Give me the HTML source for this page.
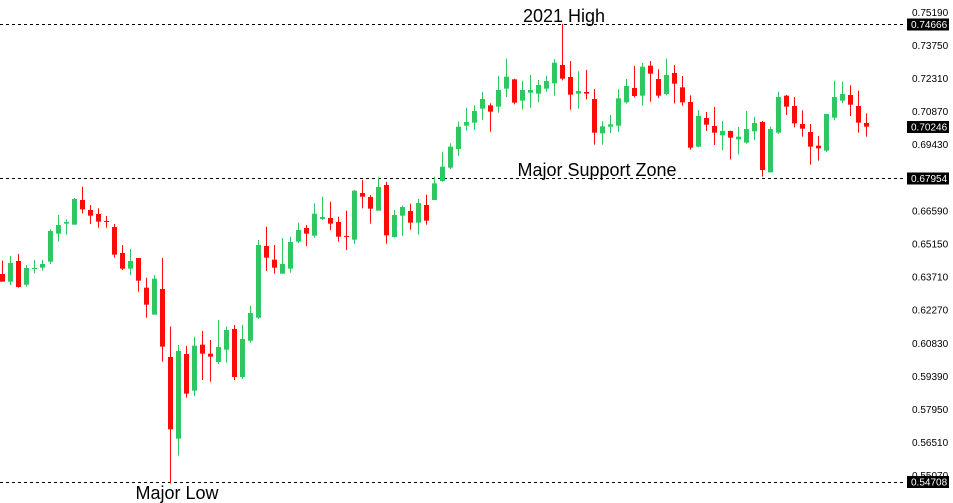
<!DOCTYPE html>
<html><head><meta charset="utf-8"><style>
html,body{margin:0;padding:0;background:#fff;width:953px;height:503px;overflow:hidden}
svg{display:block}
</style></head><body>
<svg id="s" width="953" height="503" xmlns="http://www.w3.org/2000/svg" font-family="Liberation Sans, sans-serif">
<line x1="0" y1="24.5" x2="905" y2="24.5" stroke="#000" stroke-dasharray="3,3"/>
<line x1="0" y1="178.5" x2="905" y2="178.5" stroke="#000" stroke-dasharray="3,3"/>
<line x1="0" y1="482.5" x2="905" y2="482.5" stroke="#000" stroke-dasharray="3,3"/>
<g id="c"></g>
<text x="564" y="22" font-size="18" text-anchor="middle">2021 High</text>
<text x="597" y="176" font-size="18" text-anchor="middle">Major Support Zone</text>
<text x="177" y="499" font-size="18" text-anchor="middle">Major Low</text>
<g font-size="10" fill="#000" id="ax"></g>
</svg>
<script>
var z1=[[0,'r',272,312,335,335],[1,'g',258,279,335,345],[2,'r',252,273,351,353],[3,'g',285,294,344,350],[4,'g',270,294,296,310],[5,'g',270,282,293,302],[6,'g',178,183,275,282],[7,'g',135,165,191,215],[8,'g',148,156,161,194],[9,'g',84,87,164,164],[10,'r',50,90,118,130],[11,'r',105,120,137,162],[12,'r',115,132,155,173],[13,'r',138,153,155,173],[14,'r',162,171,254,263],[15,'r',225,249,296,300],[16,'g',237,273,296,315],[17,'r',264,264,332,365],[18,'r',323,353,404,443],[19,'g',315,326,434,434],[20,'r',264,357,530,575],[21,'r',470,561,778,940],[22,'g',525,543,806,857],[23,'r',528,552,671,683],[24,'g',500,527,662,678],[25,'r',483,524,551,630],[26,'r',510,551,560,635],[27,'g',450,531,576,582],[28,'g',470,480,539,578],[29,'r',465,477,621,630],[30,'g',465,507,621,627],[31,'g',408,429,512,518],[32,'g',210,225,443,447],[33,'r',170,228,263,303],[34,'r',225,269,293,311],[35,'g',204,282,311,311],[36,'g',200,216,296,308],[37,'g',158,180,215,219],[38,'r',165,174,191,228],[39,'g',100,131,197,203],[40,'g',80,141,147,150],[41,'r',95,144,161,180],[42,'r',140,156,200,215],[43,'r',122,198,200,240],[44,'g',60,62,209,221],[45,'r',30,69,80,115],[46,'r',75,81,116,161],[47,'g',22,51,122,122],[48,'r',36,45,196,221],[49,'g',120,135,201,203],[50,'g',107,111,137,197],[51,'r',101,123,158,179],[52,'g',87,99,158,194],[53,'r',74,105,152,164]];
var z2=[[54,'g',530,550,600,600],[55,'g',455,500,543,545],[56,'g',430,440,503,507],[57,'g',365,380,447,467],[58,'g',323,366,377,392],[59,'g',316,333,368,390],[60,'g',276,297,326,360],[61,'r',310,316,335,395],[62,'g',228,270,320,338],[63,'g',176,230,266,291],[64,'r',236,238,308,313],[65,'g',242,270,302,329],[66,'g',225,270,278,323],[67,'g',240,255,281,306],[68,'g',227,243,266,275],[69,'g',177,188,250,287],[70,'r',72,195,236,241],[71,'r',183,231,284,329],[72,'g',214,273,281,326],[73,'r',210,276,281,298],[74,'r',267,297,398,434],[75,'g',364,379,400,434],[76,'g',345,373,380,399],[77,'g',268,295,377,395],[78,'g',237,258,307,311],[79,'r',198,264,288,292],[80,'g',189,200,287,317],[81,'r',183,197,221,305],[82,'r',208,237,287,294],[83,'g',176,225,282,286],[84,'r',195,219,251,310],[85,'r',228,262,307,317],[86,'r',286,306,443,449],[87,'g',330,348,440,442],[88,'r',336,354,374,393],[89,'r',321,378,398,435],[90,'g',363,393,406,450],[91,'r',392,393,413,478],[92,'g',381,410,418,463],[93,'g',333,387,428,431],[94,'g',351,369,394,420],[95,'r',363,366,510,530],[96,'g',380,387,517,517],[97,'g',275,291,398,402],[98,'r',285,287,320,345],[99,'r',291,318,370,382],[100,'r',331,372,386,410],[101,'r',372,396,440,494],[102,'r',408,437,445,482],[103,'g',342,342,452,456],[104,'g',242,291,353,361],[105,'g',245,282,302,310],[106,'r',256,285,314,348],[107,'r',272,318,368,398],[108,'r',340,369,380,410]];
var h='';
function c(x,col,hi,t,b,lo){var f=col=='g'?'#2ec862':'#ff0a0a';var xr=Math.round(x);
h+='<rect x="'+xr+'" y="'+hi+'" width="1" height="'+Math.max(1,lo-hi)+'" fill="'+f+'"/>';
h+='<rect x="'+(xr-2)+'" y="'+t+'" width="5" height="'+Math.max(1,b-t)+'" fill="'+f+'"/>';}
z1.forEach(function(d){c(2.3+8*d[0],d[1],170+d[2]/3,170+d[3]/3,170+d[4]/3,170+d[5]/3);});
z2.forEach(function(d){c(2.3+8*d[0],d[1],d[2]/3,d[3]/3,d[4]/3,d[5]/3);});
document.getElementById('c').innerHTML=h;
var a='';
var labs=['0.75190','0.73750','0.72310','0.70870','0.69430',null,'0.66590','0.65150','0.63710','0.62270','0.60830','0.59390','0.57950','0.56510','0.55070'];
labs.forEach(function(l,i){if(l){var y=12.3+i*33.1;a+='<text x="912" y="'+(y+3.5)+'">'+l+'</text>';}});
[['0.74666',24.5],['0.70246',127],['0.67954',178.5],['0.54708',482]].forEach(function(b){a+='<rect x="907" y="'+(b[1]-6)+'" width="42" height="12" fill="#000"/><text x="911" y="'+(b[1]+3.5)+'" fill="#fff">'+b[0]+'</text>';});
document.getElementById('ax').innerHTML=a;
</script>
</body></html>
